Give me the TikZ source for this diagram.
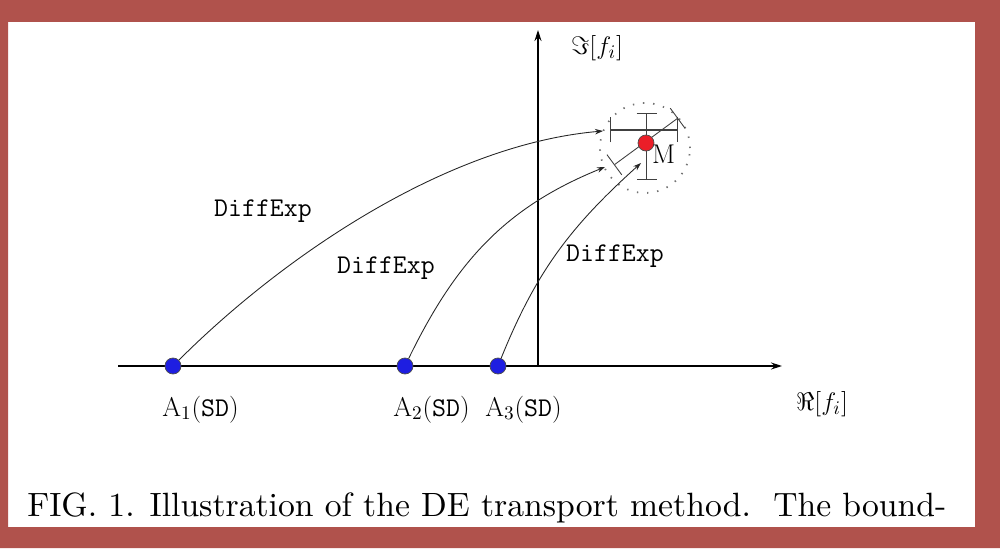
\documentclass[tikz,border=0pt]{standalone}
\usepackage{amsmath,amssymb}
\usetikzlibrary{calc,positioning,arrows.meta}
\definecolor{myblue}{RGB}{30,30,225}
\definecolor{myred}{RGB}{235,30,40}
\definecolor{framered}{RGB}{176,82,76}

\begin{document}
\begin{tikzpicture}[font=\fontsize{15.4}{18}\selectfont,
  dot/.style={circle, draw=black!70, line width=0.4pt, minimum size=0.32cm, inner sep=0pt},
  flow/.style={-{Stealth[length=0.16cm,width=0.11cm]}, line width=0.5pt, black!85},
  errbar/.style={line width=0.8pt, black!75}]
  % page and frame
  \useasboundingbox (0,0) rectangle (20,10.96);
  \fill[framered, even odd rule] (0,0) rectangle (20,10.96) (0.16,0.42) rectangle (19.5,10.52);

  % axes
  \coordinate (O) at (10.76,3.64);
  \coordinate (xl) at (2.36,3.64);
  \coordinate (xr) at (15.64,3.64);
  \coordinate (yt) at (10.76,10.36);
  \draw[-{Stealth[length=0.22cm,width=0.14cm]}, line width=0.7pt] (xl) -- (xr);
  \draw[-{Stealth[length=0.22cm,width=0.14cm]}, line width=0.7pt] (O) -- (yt);
  \node[anchor=west] (im) at (11.3,10.0) {$\Im[f_i]$};
  \node (re) at (16.44,2.88) {$\Re[f_i]$};

  % error region around M
  \node[circle, draw=black!55, line width=1pt, dash pattern=on 0.8pt off 5pt, minimum size=1.8cm] (reg) at (12.9,8.0) {};
  \draw[errbar, {Bar[width=0.5cm]}-{Bar[width=0.5cm]}] (12.2,8.36) -- (13.56,8.36);
  \draw[errbar, {Bar[width=0.4cm]}-{Bar[width=0.4cm]}] (12.93,8.70) -- (12.93,7.36);
  \draw[errbar, line width=0.5pt, {Bar[width=0.5cm]}-{Bar[width=0.5cm]}] (12.28,7.66) -- (13.56,8.60);

  % points
  \node[dot, fill=myblue] (A1) at (3.46,3.64) {};
  \node[dot, fill=myblue] (A2) at (8.10,3.64) {};
  \node[dot, fill=myblue] (A3) at (9.96,3.64) {};
  \node[dot, fill=myred] (M) at (12.92,8.10) {};
  \node[anchor=west, inner sep=1pt] (Mlab) at (13.0,7.88) {M};

  \node[anchor=base west, inner sep=0pt] (L1) at (3.24,2.64) {A$_1$(\texttt{SD})};
  \node[anchor=base west, inner sep=0pt] (L2) at (7.86,2.64) {A$_2$(\texttt{SD})};
  \node[anchor=base west, inner sep=0pt] (L3) at (9.70,2.64) {A$_3$(\texttt{SD})};

  % transport paths
  \coordinate (e1) at (12.06,8.34);
  \coordinate (e2) at (12.10,7.62);
  \coordinate (e3) at (12.82,7.70);
  \draw[flow] (A1) .. controls +(45:3.0) and +(185:3.2) .. (e1);
  \draw[flow] (A2) to[out=64, in=202] (e2);
  \draw[flow] (A3) to[out=68, in=222] (e3);
  \node (d1) at (5.26,6.74) {\texttt{DiffExp}};
  \node (d2) at (7.72,5.60) {\texttt{DiffExp}};
  \node (d3) at (12.30,5.84) {\texttt{DiffExp}};

  % caption
  \node[anchor=base west, inner sep=0pt] (cap) at (0.54,0.63)
    {\resizebox{18.38cm}{!}{\fontsize{10}{12}\selectfont FIG.~1. Illustration of the DE transport method.\ \ The bound-}};
\end{tikzpicture}
\end{document}
